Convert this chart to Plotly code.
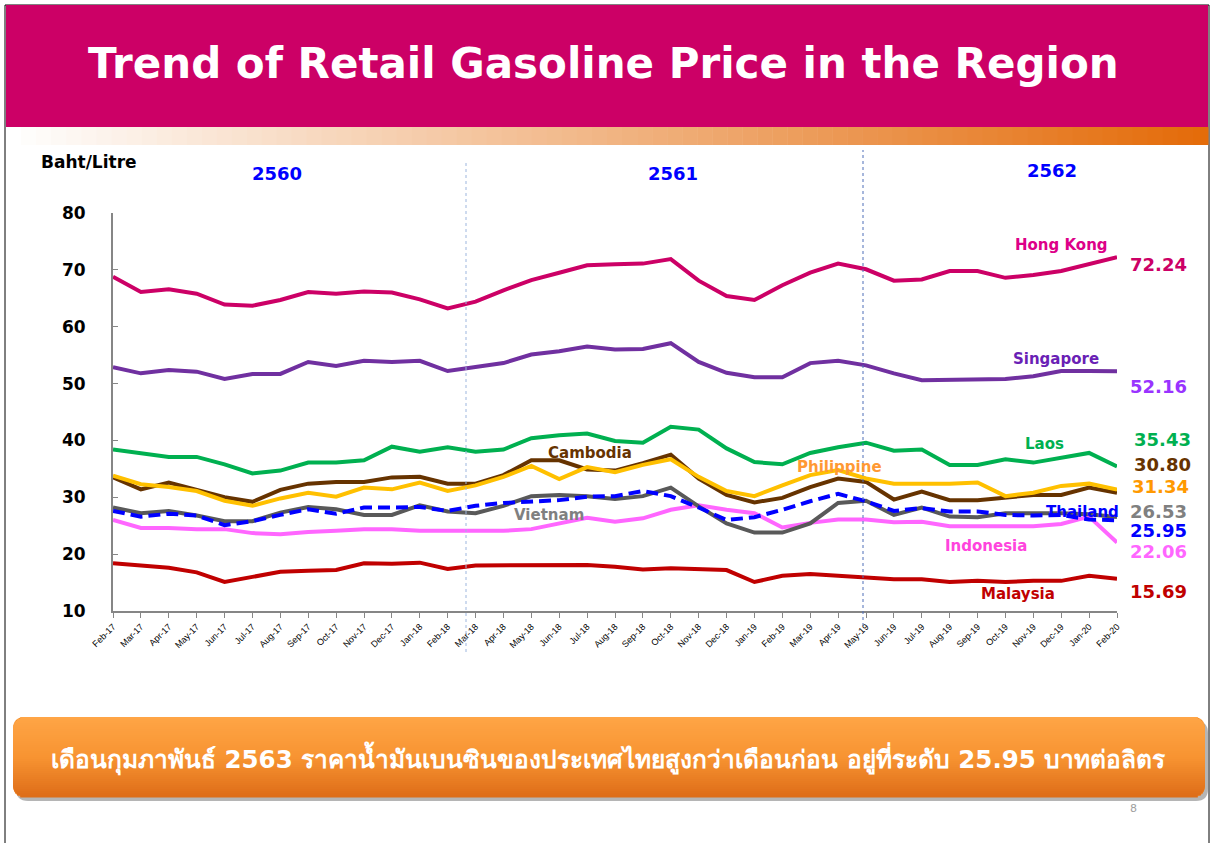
import plotly.graph_objects as go
import math

W, H = 1212, 843

months = ["Feb-17","Mar-17","Apr-17","May-17","Jun-17","Jul-17","Aug-17","Sep-17","Oct-17","Nov-17","Dec-17",
          "Jan-18","Feb-18","Mar-18","Apr-18","May-18","Jun-18","Jul-18","Aug-18","Sep-18","Oct-18","Nov-18","Dec-18",
          "Jan-19","Feb-19","Mar-19","Apr-19","May-19","Jun-19","Jul-19","Aug-19","Sep-19","Oct-19","Nov-19","Dec-19",
          "Jan-20","Feb-20"]

hong_kong = [68.8,66.1,66.6,65.8,63.9,63.7,64.7,66.1,65.8,66.2,66.0,64.8,63.2,64.4,66.4,68.2,69.5,70.8,71.0,71.1,71.9,
             68.1,65.4,64.7,67.3,69.5,71.1,70.1,68.1,68.3,69.8,69.8,68.6,69.1,69.8,71.0,72.24]
singapore = [52.9,51.8,52.4,52.1,50.8,51.7,51.7,53.8,53.1,54.0,53.8,54.0,52.2,52.9,53.6,55.1,55.7,56.5,56.0,56.1,57.1,
             53.8,51.9,51.1,51.1,53.6,54.0,53.2,51.8,50.6,50.7,50.7,50.8,51.3,52.2,52.2,52.16]
laos = [38.4,37.7,37.1,37.1,35.8,34.2,34.7,36.1,36.1,36.5,38.9,38.0,38.8,38.0,38.4,40.4,40.9,41.2,39.9,39.6,42.4,
        41.9,38.6,36.2,35.8,37.8,38.8,39.6,38.2,38.4,35.7,35.7,36.7,36.1,37.0,37.8,35.43]
cambodia = [33.5,31.4,32.6,31.3,30.0,29.2,31.3,32.4,32.7,32.7,33.5,33.6,32.4,32.4,33.9,36.5,36.5,34.9,34.7,36.0,37.5,
            33.3,30.4,29.1,29.9,31.8,33.3,32.7,29.6,31.0,29.5,29.5,30.0,30.4,30.4,31.7,30.80]
philippine = [33.8,32.3,31.8,31.1,29.4,28.5,29.8,30.8,30.1,31.7,31.4,32.6,31.1,32.1,33.6,35.5,33.2,35.3,34.4,35.7,36.7,
              33.6,31.1,30.2,32.1,33.9,34.8,33.3,32.4,32.4,32.4,32.6,30.2,30.8,32.0,32.4,31.34]
vietnam = [28.2,27.2,27.6,26.8,25.8,25.8,27.3,28.3,27.9,26.9,26.9,28.6,27.5,27.2,28.5,30.2,30.4,30.2,29.7,30.2,31.7,
           28.4,25.4,23.8,23.8,25.4,29.0,29.4,26.9,28.2,26.6,26.5,27.2,27.2,27.2,27.0,26.53]
thailand = [27.6,26.6,27.1,26.8,25.1,25.8,26.9,27.9,27.1,28.2,28.2,28.3,27.6,28.5,29.0,29.3,29.5,30.1,30.2,31.1,30.2,
            28.2,26.0,26.5,27.8,29.3,30.6,29.3,27.6,28.1,27.5,27.5,26.9,26.8,26.9,26.1,25.95]
indonesia = [26.0,24.6,24.6,24.4,24.4,23.7,23.5,23.9,24.1,24.4,24.4,24.1,24.1,24.1,24.1,24.4,25.4,26.4,25.7,26.3,27.8,
             28.6,27.8,27.2,24.7,25.5,26.1,26.1,25.6,25.7,24.9,24.9,24.9,24.9,25.3,26.6,22.06]
malaysia = [18.4,18.0,17.6,16.8,15.1,16.0,16.9,17.1,17.2,18.4,18.3,18.5,17.4,18.0,18.0,18.0,18.1,18.1,17.8,17.3,17.5,
            17.4,17.2,15.1,16.2,16.5,16.2,15.8,15.6,15.6,15.1,15.3,15.1,15.3,15.3,16.2,15.69]

series_names = ["Hong Kong","Singapore","Laos","Cambodia","Philippine","Vietnam","Thailand","Indonesia","Malaysia"]
series_vals = [hong_kong, singapore, laos, cambodia, philippine, vietnam, thailand, indonesia, malaysia]
line_colors = ["#CC0066","#7030A0","#00B050","#663300","#FFC000","#595959","#0000FF","#FF66FF","#C00000"]
label_colors = ["#DD0088","#6A1FB5","#00B050","#663300","#FF9933","#808080","#0000FF","#FF44DD","#C00000"]
value_colors = ["#CC0066","#9933FF","#00B050","#663300","#FF9900","#808080","#0000FF","#FF66FF","#C00000"]

year_labels = ["2560","2561","2562"]
y_ticks = [10,20,30,40,50,60,70,80]

FONT = "DejaVu Sans"

def px(x):
    return x / W

def py(y):
    return 1 - y / H

x_idx = list(range(len(months)))

fig = go.Figure()
draw_order = [7, 8, 2, 5, 6, 3, 4, 1, 0]
for k in draw_order:
    dash = "12px,6px" if series_names[k] == "Thailand" else "solid"
    fig.add_trace(go.Scatter(x=x_idx, y=series_vals[k], mode="lines", name=series_names[k],
                             line=dict(color=line_colors[k], width=4, dash=dash), hoverinfo="x+y+name"))

shapes = []
shapes.append(dict(type="rect", xref="paper", yref="paper", x0=px(5), x1=px(1209), y0=py(845), y1=py(5),
                   line=dict(color="black", width=1), fillcolor="rgba(0,0,0,0)", layer="below"))
shapes.append(dict(type="rect", xref="paper", yref="paper", x0=px(6), x1=px(1208), y0=py(127), y1=py(5),
                   line=dict(width=0), fillcolor="#CC0066", layer="below"))
n = 80
x_start, x_end = 6, 1208
for i in range(n):
    t = i / (n - 1)
    r = int(255 + (228 - 255) * t)
    g = int(255 + (108 - 255) * t)
    b = int(255 + (10 - 255) * t)
    xa = x_start + (x_end - x_start) * i / n
    xb = x_start + (x_end - x_start) * (i + 1) / n + 0.5
    shapes.append(dict(type="rect", xref="paper", yref="paper", x0=px(xa), x1=px(xb), y0=py(145), y1=py(127),
                       line=dict(width=0), fillcolor=f"rgb({r},{g},{b})", layer="below"))

def rounded_path(x0, y0, x1, y1, r):
    return (f"M {px(x0+r)},{py(y0)} L {px(x1-r)},{py(y0)} Q {px(x1)},{py(y0)} {px(x1)},{py(y0+r)} "
            f"L {px(x1)},{py(y1-r)} Q {px(x1)},{py(y1)} {px(x1-r)},{py(y1)} L {px(x0+r)},{py(y1)} "
            f"Q {px(x0)},{py(y1)} {px(x0)},{py(y1-r)} L {px(x0)},{py(y0+r)} Q {px(x0)},{py(y0)} {px(x0+r)},{py(y0)} Z")

shapes.append(dict(type="path", xref="paper", yref="paper", path=rounded_path(16, 721, 1208, 801, 12),
                   line=dict(width=0), fillcolor="rgba(90,90,90,0.45)", layer="below"))
shapes.append(dict(type="path", xref="paper", yref="paper", path=rounded_path(13, 717, 1205, 797, 12),
                   line=dict(width=0), fillcolor="#F39130", layer="below"))
bx0, by0, bx1, by1, rad = 13, 717, 1205, 797, 12
m = 40
for i in range(m):
    ya = by0 + (by1 - by0) * i / m
    yb = by0 + (by1 - by0) * (i + 1) / m
    ym = (ya + yb) / 2
    inset = 0
    if ym < by0 + rad:
        d = by0 + rad - ym
        inset = rad - math.sqrt(max(rad * rad - d * d, 0))
    elif ym > by1 - rad:
        d = ym - (by1 - rad)
        inset = rad - math.sqrt(max(rad * rad - d * d, 0))
    t = i / (m - 1)
    if t < 0.5:
        tt = t / 0.5
        c = (int(255 + (248 - 255) * tt), int(165 + (148 - 165) * tt), int(70 + (50 - 70) * tt))
    else:
        tt = (t - 0.5) / 0.5
        c = (int(248 + (222 - 248) * tt), int(148 + (110 - 148) * tt), int(50 + (25 - 50) * tt))
    shapes.append(dict(type="rect", xref="paper", yref="paper", x0=px(bx0 + inset), x1=px(bx1 - inset),
                       y0=py(yb + 0.4), y1=py(ya), line=dict(width=0), fillcolor=f"rgb{c}", layer="below"))

shapes.append(dict(type="line", xref="paper", yref="paper", x0=px(466), x1=px(466), y0=py(652), y1=py(160),
                   line=dict(color="#9DB6DE", width=1, dash="dot")))
shapes.append(dict(type="line", xref="paper", yref="paper", x0=px(863), x1=px(863), y0=py(626), y1=py(150),
                   line=dict(color="#4F6FB8", width=1, dash="dot")))

annotations = []
annotations.append(dict(text="<b>Trend of Retail Gasoline Price in the Region</b>", xref="paper", yref="paper",
                        x=px(603), y=py(64), xanchor="center", yanchor="middle", showarrow=False,
                        font=dict(family=FONT, size=42, color="white")))
annotations.append(dict(text="<b>Baht/Litre</b>", xref="paper", yref="paper", x=px(39), y=py(162),
                        xanchor="left", yanchor="middle", showarrow=False,
                        font=dict(family=FONT, size=17, color="black")))
for txt, cx, cy in zip(year_labels, [277, 673, 1052], [173, 173, 170]):
    annotations.append(dict(text=f"<b>{txt}</b>", xref="paper", yref="paper", x=px(cx), y=py(cy),
                            xanchor="center", yanchor="middle", showarrow=False,
                            font=dict(family=FONT, size=18, color="#0000FF")))

label_pos = [(1061, 245), (1056, 359), (1044, 444), (590, 453), (840, 467), (549, 515), (1082, 512), (986, 546), (1018, 594)]
for k, (cx, cy) in enumerate(label_pos):
    annotations.append(dict(text=f"<b>{series_names[k]}</b>", xref="paper", yref="paper", x=px(cx), y=py(cy),
                            xanchor="center", yanchor="middle", showarrow=False,
                            font=dict(family=FONT, size=15, color=label_colors[k])))

value_pos = [(1128, 264), (1128, 387), (1132, 439), (1132, 464), (1130, 486), (1128, 511), (1128, 530), (1128, 551), (1128, 591)]
for k, (lx, ly) in enumerate(value_pos):
    annotations.append(dict(text=f"<b>{series_vals[k][-1]:.2f}</b>", xref="paper", yref="paper", x=px(lx), y=py(ly),
                            xanchor="left", yanchor="middle", showarrow=False,
                            font=dict(family=FONT, size=18, color=value_colors[k])))

annotations.append(dict(text="<b>เดือนกุมภาพันธ์ 2563 ราคาน้ำมันเบนซินของประเทศไทยสูงกว่าเดือนก่อน อยู่ที่ระดับ 25.95 บาทต่อลิตร</b>",
                        xref="paper", yref="paper", x=px(608), y=py(758), xanchor="center", yanchor="middle",
                        showarrow=False, font=dict(family=FONT, size=24.5, color="white")))
annotations.append(dict(text="8", xref="paper", yref="paper", x=px(1133), y=py(808), xanchor="center",
                        yanchor="middle", showarrow=False, font=dict(family=FONT, size=11, color="#A0A0A0")))

fig.update_layout(
    width=W, height=H,
    margin=dict(l=0, r=0, t=0, b=0, autoexpand=False),
    paper_bgcolor="white", plot_bgcolor="rgba(0,0,0,0)",
    showlegend=False,
    shapes=shapes, annotations=annotations,
    xaxis=dict(domain=[px(113), px(1117)], range=[0, 36], tickmode="array", tickvals=x_idx, ticktext=months,
               tickangle=-45, tickfont=dict(family="Liberation Sans", size=9, color="black"), automargin=False,
               showgrid=False, zeroline=False, showline=True, linecolor="#868686", linewidth=2,
               ticks="outside", ticklen=5, tickcolor="#868686", tickwidth=1),
    yaxis=dict(domain=[py(611), py(213)], range=[10, 80], tickmode="array", tickvals=y_ticks,
               ticktext=[f"<b>{v}</b>" for v in y_ticks], automargin=False,
               tickfont=dict(family=FONT, size=17, color="black"),
               showgrid=False, zeroline=False, showline=True, linecolor="#868686", linewidth=2,
               ticks="inside", ticklen=5, tickcolor="#868686", ticklabelstandoff=22),
)

fig.write_html("out.html", config={"displayModeBar": False},
               post_script="document.body.style.margin='0';document.body.style.overflow='hidden';")
